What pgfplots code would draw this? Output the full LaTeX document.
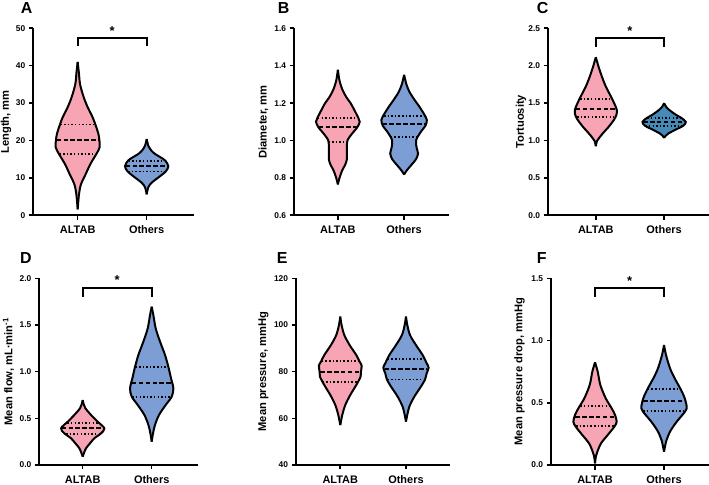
\documentclass[border=0pt]{standalone}
\usepackage{fontspec}
\setmainfont{Liberation Sans}
\usepackage{pgfplots}
\pgfplotsset{compat=1.18}
\usepackage{pgfplotstable}
\usepgfplotslibrary{fillbetween}

\definecolor{altab}{RGB}{247,164,180}
\definecolor{others}{RGB}{124,158,212}
\definecolor{otherst}{RGB}{70,138,184}

% Violin outlines: v = value, w = half width (in category units)
\pgfplotstableread{
v w
1.6 0
5.6 0.019
8.3 0.048
11.0 0.116
13.7 0.184
16.4 0.271
18.2 0.319
20.2 0.314
21.8 0.300
24.3 0.256
26.2 0.217
28.9 0.145
31.6 0.087
35.0 0.035
38.0 0.018
41.0 0
}\lenAltab
\pgfplotstableread{
v w
5.6 0
7.5 0.024
8.7 0.072
10.1 0.169
11.7 0.275
13.1 0.314
14.6 0.271
15.6 0.193
16.4 0.121
17.3 0.068
18.6 0.024
20.4 0
}\lenOther
\pgfplotstableread{
v w
0.765 0
0.80 0.025
0.84 0.065
0.87 0.110
0.90 0.136
0.95 0.136
1.00 0.145
1.04 0.222
1.07 0.293
1.10 0.330
1.12 0.310
1.16 0.253
1.20 0.192
1.23 0.131
1.27 0.071
1.32 0.025
1.378 0
}\diaAltab
\pgfplotstableread{
v w
0.818 0
0.84 0.040
0.87 0.111
0.90 0.180
0.93 0.210
0.96 0.190
1.00 0.180
1.04 0.240
1.08 0.323
1.11 0.343
1.14 0.303
1.18 0.232
1.22 0.152
1.26 0.081
1.30 0.035
1.351 0
}\diaOther
\pgfplotstableread{
v w
0.924 0
0.99 0.015
1.035 0.049
1.10 0.107
1.19 0.195
1.28 0.268
1.345 0.302
1.41 0.307
1.50 0.268
1.59 0.220
1.723 0.146
1.856 0.088
1.99 0.039
2.114 0
}\torAltab
\pgfplotstableread{
v w
1.035 0
1.07 0.030
1.10 0.073
1.146 0.171
1.199 0.283
1.248 0.317
1.301 0.254
1.345 0.171
1.41 0.073
1.45 0.030
1.50 0
}\torOther
\pgfplotstableread{
v w
0.089 0
0.13 0.019
0.179 0.048
0.232 0.106
0.286 0.169
0.339 0.266
0.393 0.314
0.464 0.217
0.536 0.121
0.607 0.039
0.65 0.015
0.696 0
}\flowAltab
\pgfplotstableread{
v w
0.25 0
0.339 0.019
0.43 0.048
0.536 0.106
0.643 0.203
0.732 0.290
0.821 0.314
0.929 0.280
1.05 0.242
1.179 0.193
1.321 0.121
1.464 0.058
1.607 0.024
1.696 0
}\flowOther
\pgfplotstableread{
v w
57.1 0
61.4 0.030
65.7 0.076
70.0 0.152
74.3 0.244
77.9 0.310
80.0 0.315
82.6 0.325
84.3 0.294
87.1 0.244
91.4 0.142
95.7 0.061
100.0 0.020
103.6 0
}\presAltab
\pgfplotstableread{
v w
58.6 0
61.5 0.020
65.0 0.051
69.3 0.127
73.6 0.228
76.6 0.290
79.3 0.315
81.7 0.345
83.6 0.315
87.1 0.254
91.4 0.152
95.7 0.061
100.0 0.020
103.6 0
}\presOther
\pgfplotstableread{
v w
0.013 0
0.06 0.010
0.107 0.034
0.174 0.087
0.241 0.184
0.308 0.280
0.348 0.314
0.402 0.290
0.455 0.242
0.536 0.155
0.643 0.077
0.75 0.039
0.825 0
}\dropAltab
\pgfplotstableread{
v w
0.107 0
0.15 0.015
0.188 0.029
0.268 0.087
0.348 0.184
0.402 0.266
0.455 0.329
0.536 0.300
0.608 0.242
0.696 0.155
0.777 0.087
0.884 0.029
0.964 0
}\dropOther

\pgfplotsset{
  panel/.style={
    scale only axis, anchor=south west, clip=false,
    axis lines=left, axis line style={-, line width=1.9pt},
    tick style={black, line width=1.6pt},
    major tick length=4.5bp, tick align=outside,
    xtick={0,1}, xticklabels={ALTAB,Others},
    xticklabel style={font=\bfseries\fontsize{11}{13}\selectfont, yshift=-2.5bp},
    yticklabel style={font=\bfseries\fontsize{8.4}{9}\selectfont,
      /pgf/number format/fixed, /pgf/number format/assume math mode=true},
    ylabel style={font=\bfseries\fontsize{11.2}{13}\selectfont, anchor=center},
  },
  dec1/.style={yticklabel style={/pgf/number format/fixed zerofill,
      /pgf/number format/precision=1}},
  violin edge/.style={black, line width=2pt, smooth},
  median/.style={black, line width=2.1pt, dash pattern=on 4.5bp off 2.4bp},
  quartile/.style={black, line width=1.8pt, dash pattern=on 1.5bp off 2.1bp},
  bracket/.style={black, line width=1.9pt},
}
\tikzset{star/.style={font=\bfseries\fontsize{13}{13}\selectfont, anchor=north, inner sep=0pt}}

% filled violin: table, centre, fill colour, path tag
\newcommand{\violin}[4]{%
  \addplot[draw=none, smooth, name path=L#4] table[x expr={#2-\thisrow{w}}, y=v]{#1};
  \addplot[draw=none, smooth, name path=R#4] table[x expr={#2+\thisrow{w}}, y=v]{#1};
  \addplot[fill=#3, draw=none] fill between[of=L#4 and R#4];
  \addplot[violin edge] table[x expr={#2-\thisrow{w}}, y=v]{#1};
  \addplot[violin edge] table[x expr={#2+\thisrow{w}}, y=v]{#1};
}

\begin{document}
\begin{tikzpicture}

% ---------- A: length ----------
\begin{axis}[panel, at={(33.3bp,269.7bp)}, width=160.7bp, height=187bp,
  xmin=-0.643, xmax=1.686, ymin=0, ymax=50, ytick={0,10,...,50},
  ylabel={Length, mm}, ylabel style={at={(axis description cs:-0.17,0.5)}}]
  \violin{\lenAltab}{0}{altab}{a}
  \violin{\lenOther}{1}{others}{b}
  \addplot[quartile] coordinates {(-0.263,16.4) (0.263,16.4)};
  \addplot[median]   coordinates {(-0.305,20.2) (0.305,20.2)};
  \addplot[quartile] coordinates {(-0.248,24.3) (0.248,24.3)};
  \addplot[quartile] coordinates {(0.733,11.7) (1.267,11.7)};
  \addplot[median]   coordinates {(0.695,13.1) (1.305,13.1)};
  \addplot[quartile] coordinates {(0.737,14.6) (1.263,14.6)};
  \addplot[bracket] coordinates {(0,45.2) (0,47.3) (1,47.3) (1,45.2)};
  \node[star] at (axis cs:0.5,50.4) {*};
\end{axis}

% ---------- B: diameter ----------
\begin{axis}[panel, dec1, at={(294bp,269.7bp)}, width=154.5bp, height=187bp,
  xmin=-0.662, xmax=1.67, ymin=0.6, ymax=1.6, ytick={0.6,0.8,...,1.61},
  ylabel={Diameter, mm}, ylabel style={at={(axis description cs:-0.197,0.5)}}]
  \violin{\diaAltab}{0}{altab}{a}
  \violin{\diaOther}{1}{others}{b}
  \addplot[quartile] coordinates {(-0.14,0.994) (0.14,0.994)};
  \addplot[median]   coordinates {(-0.29,1.073) (0.29,1.073)};
  \addplot[quartile] coordinates {(-0.30,1.122) (0.30,1.122)};
  \addplot[quartile] coordinates {(0.80,1.017) (1.20,1.017)};
  \addplot[median]   coordinates {(0.674,1.090) (1.326,1.090)};
  \addplot[quartile] coordinates {(0.697,1.133) (1.303,1.133)};
\end{axis}

% ---------- C: tortuosity ----------
\begin{axis}[panel, dec1, at={(548bp,269.7bp)}, width=161bp, height=187bp,
  xmin=-0.70, xmax=1.657, ymin=0, ymax=2.5, ytick={0,0.5,...,2.51},
  ylabel={Tortuosity}, ylabel style={at={(axis description cs:-0.168,0.5)}}]
  \violin{\torAltab}{0}{altab}{a}
  \violin{\torOther}{1}{otherst}{b}
  \addplot[quartile] coordinates {(-0.273,1.314) (0.273,1.314)};
  \addplot[median]   coordinates {(-0.291,1.425) (0.291,1.425)};
  \addplot[quartile] coordinates {(-0.23,1.559) (0.23,1.559)};
  \addplot[quartile] coordinates {(0.725,1.199) (1.275,1.199)};
  \addplot[median]   coordinates {(0.693,1.248) (1.307,1.248)};
  \addplot[quartile] coordinates {(0.754,1.301) (1.246,1.301)};
  \addplot[bracket] coordinates {(0,2.256) (0,2.367) (1,2.367) (1,2.256)};
  \node[star] at (axis cs:0.5,2.52) {*};
\end{axis}

% ---------- D: mean flow ----------
\begin{axis}[panel, dec1, at={(39.3bp,20bp)}, width=158.7bp, height=186.7bp,
  xmin=-0.629, xmax=1.671, ymin=0, ymax=2, ytick={0,0.5,...,2.01},
  ylabel={Mean flow, mL·min\textsuperscript{-1}}, ylabel style={at={(axis description cs:-0.194,0.5)}}]
  \violin{\flowAltab}{0}{altab}{a}
  \violin{\flowOther}{1}{others}{b}
  \addplot[quartile] coordinates {(-0.24,0.329) (0.24,0.329)};
  \addplot[median]   coordinates {(-0.305,0.393) (0.305,0.393)};
  \addplot[quartile] coordinates {(-0.223,0.454) (0.223,0.454)};
  \addplot[quartile] coordinates {(0.719,0.732) (1.281,0.732)};
  \addplot[median]   coordinates {(0.712,0.875) (1.288,0.875)};
  \addplot[quartile] coordinates {(0.765,1.05) (1.235,1.05)};
  \addplot[bracket] coordinates {(0,1.804) (0,1.9) (1,1.9) (1,1.804)};
  \node[star] at (axis cs:0.5,2.03) {*};
\end{axis}

% ---------- E: mean pressure ----------
\begin{axis}[panel, at={(296bp,20bp)}, width=153.6bp, height=186.7bp,
  xmin=-0.674, xmax=1.664, ymin=40, ymax=120, ytick={40,60,...,120},
  ylabel={Mean pressure, mmHg}, ylabel style={at={(axis description cs:-0.212,0.5)}}]
  \violin{\presAltab}{0}{altab}{a}
  \violin{\presOther}{1}{others}{b}
  \addplot[quartile] coordinates {(-0.269,75.7) (0.269,75.7)};
  \addplot[median]   coordinates {(-0.305,80.0) (0.305,80.0)};
  \addplot[quartile] coordinates {(-0.28,84.6) (0.28,84.6)};
  \addplot[quartile] coordinates {(0.719,76.6) (1.281,76.6)};
  \addplot[median]   coordinates {(0.674,81.0) (1.326,81.0)};
  \addplot[quartile] coordinates {(0.724,85.3) (1.276,85.3)};
\end{axis}

% ---------- F: mean pressure drop ----------
\begin{axis}[panel, dec1, at={(551bp,20bp)}, width=158bp, height=186.7bp,
  xmin=-0.638, xmax=1.652, ymin=0, ymax=1.5, ytick={0,0.5,...,1.51},
  ylabel={Mean pressure drop, mmHg}, ylabel style={at={(axis description cs:-0.199,0.5)}}]
  \violin{\dropAltab}{0}{altab}{a}
  \violin{\dropOther}{1}{others}{b}
  \addplot[quartile] coordinates {(-0.275,0.313) (0.275,0.313)};
  \addplot[median]   coordinates {(-0.287,0.388) (0.287,0.388)};
  \addplot[quartile] coordinates {(-0.213,0.477) (0.213,0.477)};
  \addplot[quartile] coordinates {(0.701,0.437) (1.299,0.437)};
  \addplot[median]   coordinates {(0.701,0.514) (1.299,0.514)};
  \addplot[quartile] coordinates {(0.765,0.608) (1.235,0.608)};
  \addplot[bracket] coordinates {(0,1.353) (0,1.425) (1,1.425) (1,1.353)};
  \node[star] at (axis cs:0.5,1.519) {*};
\end{axis}

% panel letters
\begin{scope}[every node/.style={font=\bfseries\fontsize{16}{16}\selectfont, anchor=base west, inner sep=0pt}]
  \node at (20.7bp,471.7bp) {A};
  \node at (277.7bp,471.7bp) {B};
  \node at (536.7bp,471.7bp) {C};
  \node at (20bp,221bp) {D};
  \node at (276.7bp,221bp) {E};
  \node at (536.7bp,221bp) {F};
\end{scope}

\pgfresetboundingbox
\useasboundingbox (0,0) rectangle (709bp,485bp);
\end{tikzpicture}
\end{document}
